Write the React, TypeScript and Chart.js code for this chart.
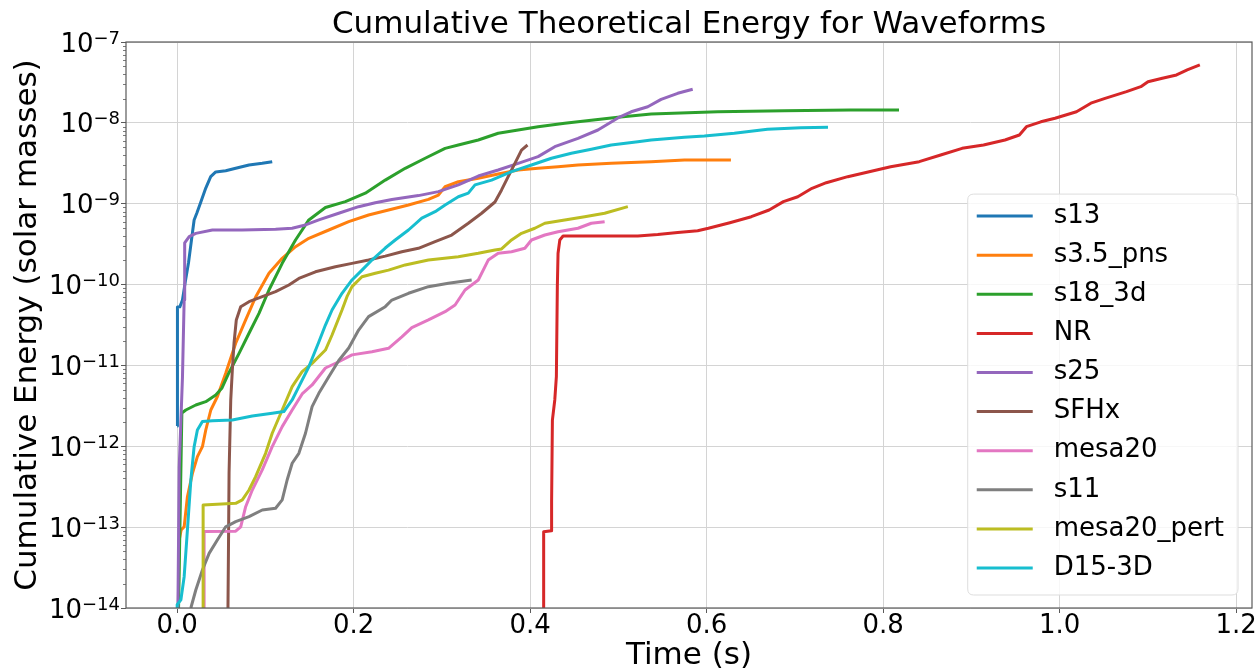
import React, { useEffect, useRef } from 'react';
import { Chart, registerables } from 'chart.js';

Chart.register(...registerables);

// ---------- data ----------
const SERIES_NAMES = ['s13', 's3.5_pns', 's18_3d', 'NR', 's25', 'SFHx', 'mesa20', 's11', 'mesa20_pert', 'D15-3D'];
const SERIES_COLORS = ['#1f77b4', '#ff7f0e', '#2ca02c', '#d62728', '#9467bd', '#8c564b', '#e377c2', '#7f7f7f', '#bcbd22', '#17becf'];

const s13Time = [0.0, 0.0, 0.0006, 0.003, 0.006, 0.009, 0.0128, 0.0162, 0.0192, 0.0223, 0.0268, 0.0324, 0.038, 0.0437, 0.055, 0.0663, 0.0814, 0.0964, 0.1077];
const s13Energy = [1.78e-12, 1.55e-11, 5.28e-11, 5.3e-11, 6.46e-11, 1.05e-10, 1.85e-10, 3.56e-10, 6.3e-10, 7.68e-10, 1.05e-9, 1.56e-9, 2.16e-9, 2.47e-9, 2.56e-9, 2.74e-9, 3.01e-9, 3.16e-9, 3.31e-9];

const s35Time = [0.0, 0.0023, 0.0045, 0.0079, 0.0116, 0.0173, 0.0229, 0.0286, 0.0324, 0.0381, 0.0455, 0.055, 0.0663, 0.0776, 0.0889, 0.104, 0.119, 0.1341, 0.1492, 0.1718, 0.1944, 0.2169, 0.2395, 0.2621, 0.2847, 0.296, 0.3036, 0.3186, 0.3412, 0.3638, 0.3864, 0.409, 0.4316, 0.4542, 0.4919, 0.5371, 0.5748, 0.6275];
const s35Energy = [1e-15, 6.93e-14, 9.22e-14, 1.01e-13, 2.38e-13, 4.64e-13, 7.45e-13, 9.89e-13, 1.59e-12, 2.81e-12, 4.1e-12, 8.0e-12, 1.88e-11, 3.65e-11, 7.02e-11, 1.38e-10, 2.11e-10, 2.94e-10, 3.73e-10, 4.73e-10, 6.0e-10, 7.25e-10, 8.36e-10, 9.63e-10, 1.13e-9, 1.28e-9, 1.62e-9, 1.87e-9, 2.06e-9, 2.33e-9, 2.61e-9, 2.74e-9, 2.87e-9, 3.01e-9, 3.16e-9, 3.31e-9, 3.47e-9, 3.47e-9];

const s18Time = [0.0, 0.0053, 0.0098, 0.0211, 0.0324, 0.0437, 0.0508, 0.0588, 0.0701, 0.0814, 0.0927, 0.104, 0.119, 0.1341, 0.1492, 0.168, 0.1906, 0.2132, 0.2358, 0.2584, 0.281, 0.3036, 0.3186, 0.3412, 0.3638, 0.3864, 0.409, 0.4392, 0.4692, 0.4994, 0.5371, 0.6124, 0.6878, 0.763, 0.818];
const s18Energy = [1e-15, 2.58e-12, 2.81e-12, 3.24e-12, 3.56e-12, 4.31e-12, 5.26e-12, 8.18e-12, 1.41e-11, 2.5e-11, 4.41e-11, 8.57e-11, 1.83e-10, 3.56e-10, 6.3e-10, 8.98e-10, 1.06e-9, 1.35e-9, 1.96e-9, 2.74e-9, 3.65e-9, 4.84e-9, 5.32e-9, 6.14e-9, 7.43e-9, 8.16e-9, 8.97e-9, 9.88e-9, 1.08e-8, 1.17e-8, 1.29e-8, 1.37e-8, 1.41e-8, 1.44e-8, 1.44e-8];

const nrTime = [0.4147, 0.4153, 0.4241, 0.4243, 0.4252, 0.4279, 0.4297, 0.4308, 0.4316, 0.4336, 0.4373, 0.4768, 0.522, 0.5446, 0.5672, 0.5898, 0.602, 0.6263, 0.6506, 0.6708, 0.687, 0.7033, 0.7194, 0.7356, 0.7599, 0.7842, 0.8085, 0.8409, 0.8652, 0.8895, 0.9138, 0.9381, 0.9544, 0.9624, 0.9787, 0.9948, 1.0191, 1.0354, 1.0515, 1.0758, 1.092, 1.1001, 1.1164, 1.1325, 1.1446, 1.1589];
const nrEnergy = [1e-15, 8.79e-14, 9.04e-14, 2.07e-13, 2.11e-12, 3.74e-12, 7.26e-12, 9.42e-11, 2.44e-10, 3.56e-10, 3.99e-10, 3.99e-10, 3.99e-10, 4.16e-10, 4.41e-10, 4.63e-10, 4.97e-10, 5.82e-10, 6.91e-10, 8.36e-10, 1.06e-9, 1.22e-9, 1.55e-9, 1.82e-9, 2.16e-9, 2.49e-9, 2.87e-9, 3.31e-9, 4.01e-9, 4.84e-9, 5.32e-9, 6.14e-9, 7.08e-9, 8.97e-9, 1.03e-8, 1.14e-8, 1.37e-8, 1.75e-8, 2.01e-8, 2.43e-8, 2.8e-8, 3.23e-8, 3.56e-8, 3.91e-8, 4.51e-8, 5.2e-8];

const s25Time = [0.0, 0.0023, 0.006, 0.0079, 0.0085, 0.0136, 0.0211, 0.0399, 0.0734, 0.1115, 0.1303, 0.1454, 0.1605, 0.183, 0.2056, 0.2245, 0.2433, 0.2734, 0.296, 0.3186, 0.3412, 0.3638, 0.3864, 0.409, 0.4279, 0.4542, 0.4768, 0.4994, 0.5145, 0.5333, 0.5484, 0.5672, 0.5842];
const s25Energy = [1e-15, 5.55e-13, 7.2e-12, 6.46e-11, 3.27e-10, 3.91e-10, 4.3e-10, 4.73e-10, 4.73e-10, 4.83e-10, 4.97e-10, 5.46e-10, 6.3e-10, 7.62e-10, 9.19e-10, 1.03e-9, 1.13e-9, 1.26e-9, 1.41e-9, 1.71e-9, 2.2e-9, 2.61e-9, 3.16e-9, 3.82e-9, 5.07e-9, 6.44e-9, 8.16e-9, 1.15e-8, 1.37e-8, 1.58e-8, 1.95e-8, 2.32e-8, 2.6e-8];

const sfhxTime = [0.0568, 0.0582, 0.0588, 0.0607, 0.0625, 0.0644, 0.067, 0.072, 0.0814, 0.0964, 0.1115, 0.1266, 0.1379, 0.1567, 0.1793, 0.1981, 0.2169, 0.2358, 0.2546, 0.2734, 0.2923, 0.3111, 0.3299, 0.345, 0.3601, 0.3676, 0.3751, 0.3827, 0.3902, 0.397];
const sfhxEnergy = [1e-15, 6.93e-14, 4.68e-13, 3.74e-12, 8.79e-12, 1.88e-11, 3.65e-11, 5.33e-11, 6.14e-11, 7.08e-11, 8.16e-11, 9.88e-11, 1.19e-10, 1.44e-10, 1.66e-10, 1.83e-10, 2.01e-10, 2.25e-10, 2.55e-10, 2.81e-10, 3.39e-10, 4.1e-10, 5.73e-10, 7.62e-10, 1.05e-9, 1.48e-9, 2.16e-9, 3.16e-9, 4.61e-9, 5.32e-9];

const mesa20Time = [0.0305, 0.0305, 0.0663, 0.072, 0.0776, 0.0851, 0.0964, 0.1077, 0.119, 0.1303, 0.1416, 0.1529, 0.168, 0.1831, 0.1981, 0.2207, 0.2395, 0.2546, 0.2659, 0.2847, 0.3036, 0.3149, 0.3262, 0.3412, 0.3525, 0.3638, 0.3789, 0.394, 0.4015, 0.4166, 0.4316, 0.4542, 0.4693, 0.4844];
const mesa20Energy = [1e-15, 8.83e-14, 8.9e-14, 1.01e-13, 1.79e-13, 2.88e-13, 5.1e-13, 9.89e-13, 1.75e-12, 2.81e-12, 4.44e-12, 5.73e-12, 9.29e-12, 1.11e-11, 1.35e-11, 1.48e-11, 1.63e-11, 2.26e-11, 2.94e-11, 3.65e-11, 4.62e-11, 5.59e-11, 8.57e-11, 1.14e-10, 2.01e-10, 2.44e-10, 2.55e-10, 2.81e-10, 3.56e-10, 4.1e-10, 4.51e-10, 4.97e-10, 5.73e-10, 6.0e-10];

const s11Time = [0.0155, 0.0211, 0.0286, 0.0362, 0.0455, 0.055, 0.0663, 0.0814, 0.0964, 0.1115, 0.119, 0.1246, 0.1303, 0.1379, 0.1454, 0.1529, 0.1605, 0.1718, 0.1831, 0.1944, 0.2056, 0.2169, 0.2358, 0.2433, 0.2621, 0.2847, 0.3073, 0.3337];
const s11Energy = [1e-14, 1.67e-14, 2.95e-14, 4.74e-14, 6.93e-14, 1.01e-13, 1.17e-13, 1.35e-13, 1.63e-13, 1.71e-13, 2.17e-13, 3.83e-13, 6.17e-13, 8.18e-13, 1.45e-12, 3.09e-12, 4.52e-12, 7.26e-12, 1.15e-11, 1.64e-11, 2.74e-11, 4.01e-11, 5.33e-11, 6.44e-11, 7.8e-11, 9.42e-11, 1.04e-10, 1.14e-10];

const mesa20PertTime = [0.0294, 0.0294, 0.0663, 0.0738, 0.0814, 0.0889, 0.1002, 0.1077, 0.119, 0.1303, 0.1416, 0.1529, 0.168, 0.1755, 0.1868, 0.1924, 0.1981, 0.2094, 0.2245, 0.2395, 0.2584, 0.2847, 0.3186, 0.3412, 0.3601, 0.3676, 0.3789, 0.3902, 0.4053, 0.4166, 0.4392, 0.4618, 0.4844, 0.5107];
const mesa20PertEnergy = [1e-15, 1.88e-13, 1.97e-13, 2.17e-13, 2.88e-13, 4.21e-13, 8.18e-13, 1.45e-12, 2.81e-12, 5.46e-12, 8.38e-12, 1.06e-11, 1.55e-11, 2.38e-11, 4.85e-11, 7.08e-11, 9.42e-11, 1.25e-10, 1.38e-10, 1.51e-10, 1.75e-10, 2.01e-10, 2.21e-10, 2.44e-10, 2.68e-10, 2.76e-10, 3.56e-10, 4.3e-10, 4.97e-10, 5.73e-10, 6.3e-10, 6.91e-10, 7.62e-10, 9.19e-10];

const d15Time = [0.0, 0.0, 0.0042, 0.0079, 0.0116, 0.0155, 0.0192, 0.0229, 0.0286, 0.0399, 0.0625, 0.0851, 0.1077, 0.1209, 0.1303, 0.1379, 0.1492, 0.1605, 0.168, 0.1755, 0.1868, 0.1981, 0.2094, 0.2207, 0.2358, 0.2471, 0.2621, 0.2772, 0.2923, 0.3036, 0.3186, 0.3299, 0.3375, 0.3563, 0.3789, 0.4015, 0.4241, 0.4467, 0.4693, 0.4919, 0.522, 0.5371, 0.5748, 0.5974, 0.6313, 0.6689, 0.7066, 0.7375];
const d15Energy = [1e-15, 1.1e-14, 1.26e-14, 2.44e-14, 9.22e-14, 3.83e-13, 9.89e-13, 1.59e-12, 2.02e-12, 2.07e-12, 2.11e-12, 2.37e-12, 2.56e-12, 2.69e-12, 3.74e-12, 5.46e-12, 9.64e-12, 1.95e-11, 3.16e-11, 4.85e-11, 7.8e-11, 1.14e-10, 1.51e-10, 2.01e-10, 2.83e-10, 3.56e-10, 4.73e-10, 6.65e-10, 7.96e-10, 9.63e-10, 1.22e-9, 1.35e-9, 1.71e-9, 1.96e-9, 2.49e-9, 3.01e-9, 3.65e-9, 4.2e-9, 4.71e-9, 5.32e-9, 5.85e-9, 6.14e-9, 6.63e-9, 6.88e-9, 7.43e-9, 8.32e-9, 8.71e-9, 8.8e-9];

const SERIES_TIMES = [s13Time, s35Time, s18Time, nrTime, s25Time, sfhxTime, mesa20Time, s11Time, mesa20PertTime, d15Time];
const SERIES_ENERGIES = [s13Energy, s35Energy, s18Energy, nrEnergy, s25Energy, sfhxEnergy, mesa20Energy, s11Energy, mesa20PertEnergy, d15Energy];

const X_TICKS = [0, 0.2, 0.4, 0.6, 0.8, 1.0, 1.2];
const X_TICK_LABELS = ['0.0', '0.2', '0.4', '0.6', '0.8', '1.0', '1.2'];
const Y_TICKS = [1e-14, 1e-13, 1e-12, 1e-11, 1e-10, 1e-9, 1e-8, 1e-7];
const Y_TICK_BASES = ['10', '10', '10', '10', '10', '10', '10', '10'];
const Y_TICK_EXPONENTS = ['−14', '−13', '−12', '−11', '−10', '−9', '−8', '−7'];
const X_RANGE = [-0.058, 1.218];
const Y_RANGE = [1e-14, 1e-7];

const TITLE = 'Cumulative Theoretical Energy for Waveforms';
const X_LABEL = 'Time (s)';
const Y_LABEL = 'Cumulative Energy (solar masses)';

// ---------- styling ----------
const FONT = "'DejaVu Sans', Verdana, sans-serif";
const GRID_COLOR = '#d4d4d4';
const SPINE_COLOR = '#5a5a5a';
const TICK_FONT_SIZE = 26;
const EXP_FONT_SIZE = 18;

const framePlugin = {
  id: 'mplFrame',
  afterDatasetsDraw(chart: any) {
    const { ctx, chartArea } = chart;
    const yScale = chart.scales.y;
    ctx.save();
    ctx.strokeStyle = SPINE_COLOR;
    ctx.lineWidth = 1.2;
    ctx.strokeRect(chartArea.left, chartArea.top, chartArea.right - chartArea.left, chartArea.bottom - chartArea.top);
    // minor log ticks
    ctx.lineWidth = 0.8;
    ctx.beginPath();
    for (let d = -14; d < -7; d++) {
      for (let k = 2; k <= 9; k++) {
        const py = Math.round(yScale.getPixelForValue(k * Math.pow(10, d))) + 0.5;
        ctx.moveTo(chartArea.left - 3, py);
        ctx.lineTo(chartArea.left, py);
      }
    }
    ctx.stroke();
    ctx.restore();
  },
};

// y tick labels drawn math-style (base + raised exponent), positioned by the y scale
const yTickLabelPlugin = {
  id: 'mplYTickLabels',
  afterDraw(chart: any) {
    const { ctx, chartArea } = chart;
    const yScale = chart.scales.y;
    ctx.save();
    ctx.fillStyle = '#000';
    ctx.textAlign = 'left';
    ctx.textBaseline = 'alphabetic';
    const right = chartArea.left - 6;
    Y_TICKS.forEach((v, i) => {
      const py = yScale.getPixelForValue(v);
      ctx.font = `${EXP_FONT_SIZE}px ${FONT}`;
      const wExp = ctx.measureText(Y_TICK_EXPONENTS[i]).width;
      ctx.font = `${TICK_FONT_SIZE}px ${FONT}`;
      const wBase = ctx.measureText(Y_TICK_BASES[i]).width;
      const xBase = right - wExp - wBase;
      ctx.fillText(Y_TICK_BASES[i], xBase, py + 9.5);
      ctx.font = `${EXP_FONT_SIZE}px ${FONT}`;
      ctx.fillText(Y_TICK_EXPONENTS[i], right - wExp, py + 1.5);
    });
    ctx.restore();
  },
};

const legendPlugin = {
  id: 'mplLegend',
  afterDraw(chart: any) {
    const { ctx, chartArea } = chart;
    const sets = chart.data.datasets;
    const fontSize = 26;
    ctx.save();
    ctx.font = `${fontSize}px ${FONT}`;
    let maxW = 0;
    sets.forEach((ds: any) => { maxW = Math.max(maxW, ctx.measureText(ds.label).width); });
    const rowH = 39.1;
    const textX = 86;
    const w = textX + maxW + 14;
    const h = 22 + rowH * (sets.length - 1) + 27;
    const right = chartArea.right - 14;
    const bottom = chartArea.bottom - 13;
    const left = right - w;
    const top = bottom - h;
    const r = 6;
    ctx.beginPath();
    ctx.moveTo(left + r, top);
    ctx.lineTo(right - r, top);
    ctx.quadraticCurveTo(right, top, right, top + r);
    ctx.lineTo(right, bottom - r);
    ctx.quadraticCurveTo(right, bottom, right - r, bottom);
    ctx.lineTo(left + r, bottom);
    ctx.quadraticCurveTo(left, bottom, left, bottom - r);
    ctx.lineTo(left, top + r);
    ctx.quadraticCurveTo(left, top, left + r, top);
    ctx.closePath();
    ctx.fillStyle = 'rgba(255,255,255,0.8)';
    ctx.fill();
    ctx.strokeStyle = '#dddddd';
    ctx.lineWidth = 1;
    ctx.stroke();
    sets.forEach((ds: any, i: number) => {
      const cy = top + 22 + i * rowH;
      ctx.strokeStyle = ds.borderColor;
      ctx.lineWidth = 3;
      ctx.beginPath();
      ctx.moveTo(left + 9, cy);
      ctx.lineTo(left + 65, cy);
      ctx.stroke();
      ctx.fillStyle = '#000';
      ctx.textBaseline = 'middle';
      ctx.textAlign = 'left';
      ctx.fillText(ds.label, left + textX, cy);
    });
    ctx.restore();
  },
};

export default function App() {
  const ref = useRef<HTMLCanvasElement>(null);
  useEffect(() => {
    if (!ref.current) return;
    const datasets = SERIES_NAMES.map((name, i) => ({
      label: name,
      data: SERIES_TIMES[i].map((t, j) => ({ x: t, y: SERIES_ENERGIES[i][j] })),
      borderColor: SERIES_COLORS[i],
      backgroundColor: SERIES_COLORS[i],
      borderWidth: 3,
      pointRadius: 0,
      pointHoverRadius: 0,
      tension: 0,
      fill: false,
      clip: 0,
      order: SERIES_NAMES.length - i,
      borderJoinStyle: 'round' as const,
    }));
    const chart = new Chart(ref.current, {
      type: 'line',
      data: { datasets },
      options: {
        animation: false,
        responsive: false,
        devicePixelRatio: 1,
        events: [],
        layout: { padding: { left: 0, right: 7, top: 0, bottom: 0 } },
        scales: {
          x: {
            type: 'linear',
            min: X_RANGE[0],
            max: X_RANGE[1],
            afterBuildTicks: (scale: any) => { scale.ticks = X_TICKS.map((v) => ({ value: v })); },
            afterFit: (scale: any) => { scale.height = 63; },
            ticks: {
              callback: (_v: any, i: number) => X_TICK_LABELS[i],
              font: { family: FONT, size: TICK_FONT_SIZE, lineHeight: 1 },
              color: '#000',
              padding: 0,
              maxRotation: 0,
              autoSkip: false,
            },
            grid: { color: GRID_COLOR, lineWidth: 1, drawTicks: true, tickLength: 5, tickColor: SPINE_COLOR, tickWidth: 1 },
            border: { display: false },
            title: { display: true, text: X_LABEL, color: '#000', font: { family: FONT, size: 31, lineHeight: 1 }, padding: { top: 0, bottom: 0 } },
          },
          y: {
            type: 'logarithmic',
            min: Y_RANGE[0],
            max: Y_RANGE[1],
            afterBuildTicks: (scale: any) => { scale.ticks = Y_TICKS.map((v) => ({ value: v, major: true })); },
            afterFit: (scale: any) => { scale.width = 126; },
            ticks: { display: false, autoSkip: false },
            grid: { color: GRID_COLOR, lineWidth: 1, drawTicks: true, tickLength: 5, tickColor: SPINE_COLOR, tickWidth: 1 },
            border: { display: false },
            title: { display: true, text: Y_LABEL, color: '#000', font: { family: FONT, size: 31, lineHeight: 1 }, padding: { top: 12, bottom: 0 } },
          },
        },
        plugins: {
          title: {
            display: true,
            text: TITLE,
            color: '#000',
            fullSize: false,
            font: { family: FONT, size: 31, weight: 'normal', lineHeight: 1 },
            padding: { top: 9, bottom: 2 },
          },
          legend: { display: false },
          tooltip: { enabled: false },
        },
      } as any,
      plugins: [framePlugin, yTickLabelPlugin, legendPlugin],
    });
    return () => chart.destroy();
  }, []);
  return (
    <canvas
      ref={ref}
      width={1259}
      height={671}
      style={{ position: 'absolute', left: 0, top: 0, width: 1259, height: 671, background: '#fff' }}
    />
  );
}
